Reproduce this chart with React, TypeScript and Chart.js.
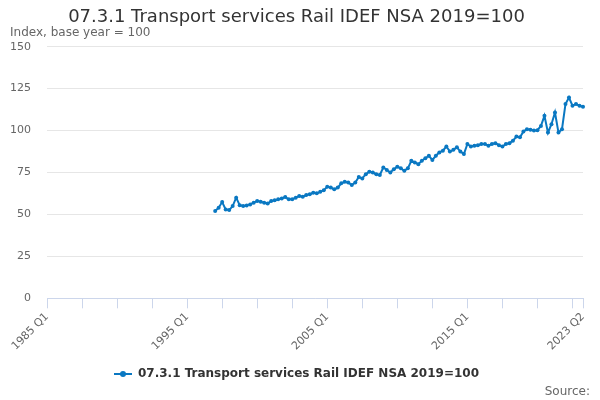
import React, { useEffect, useRef } from "react";
import { Chart, registerables } from "chart.js";

Chart.register(...registerables);

// Categories: quarterly periods from 1985 Q1 to 2023 Q2
const FIRST_YEAR = 1985;
const LAST_YEAR = 2023;
const LAST_QUARTER = 2;
const categories: string[] = [];
for (let y = FIRST_YEAR; y <= LAST_YEAR; y++) {
  for (let q = 1; q <= 4; q++) {
    if (y === LAST_YEAR && q > LAST_QUARTER) break;
    categories.push(`${y} Q${q}`);
  }
}

// Series starts at 1997 Q1
const seriesStart = "1997 Q1";
const seriesValues: number[] = [
  52, 54, 57.4, 53, 52.6, 55, 60, 55.5, 55, 55.4, 56, 57, 58, 57.5, 57, 56.5,
  58, 58.5, 59, 59.5, 60.4, 59, 59, 60, 61, 60.5, 61.6, 62, 63, 62.6, 63.5, 64.5,
  66.5, 66, 65, 66, 68.6, 69.5, 69, 67.5, 69, 72.3, 71.5, 74, 75.5, 75, 74, 73.5,
  78, 76.5, 75, 77, 78.5, 77.5, 76, 77.5, 82, 81, 80, 82, 83.5, 85, 82.5, 85,
  87, 88, 90.5, 87.5, 88.5, 90, 87.5, 86, 92, 90.5, 91, 91.3, 92, 92, 91, 92,
  92.5, 91.3, 90.5, 92, 92.5, 94, 96.4, 96, 99.5, 100.8, 100.5, 100, 100.2, 102.8, 108.8, 98.8,
  103.8, 110.8, 98.8, 100.8, 115.8, 119.7, 114.8, 115.8, 114.8, 114.2, 114,
];

// Axis labels
const shownXLabels = ["1985 Q1", "1995 Q1", "2005 Q1", "2015 Q1", "2023 Q2"];
const xTickMarkStep = 10;
const yTicks = [0, 25, 50, 75, 100, 125, 150];

const seriesName = "07.3.1 Transport services Rail IDEF NSA 2019=100";
const titleText = "07.3.1 Transport services Rail IDEF NSA 2019=100";
const subtitleText = "Index, base year = 100";
const sourceText = "Source:";

const LINE_COLOR = "#0a78c2";
const FONT = "'DejaVu Sans', sans-serif";

function makeLegendSymbol(): HTMLCanvasElement {
  const c = document.createElement("canvas");
  c.width = 18;
  c.height = 8;
  const ctx = c.getContext("2d")!;
  ctx.strokeStyle = LINE_COLOR;
  ctx.lineWidth = 2;
  ctx.beginPath();
  ctx.moveTo(0, 4);
  ctx.lineTo(18, 4);
  ctx.stroke();
  ctx.fillStyle = LINE_COLOR;
  ctx.beginPath();
  ctx.arc(9, 4, 3, 0, Math.PI * 2);
  ctx.fill();
  return c;
}

export default function App() {
  const canvasRef = useRef<HTMLCanvasElement | null>(null);

  useEffect(() => {
    if (!canvasRef.current) return;
    const startIdx = categories.indexOf(seriesStart);
    const data = categories.map((_, i) =>
      i < startIdx ? null : seriesValues[i - startIdx] ?? null
    );
    const lastIdx = categories.length - 1;
    const tickIdx: number[] = [];
    for (let i = 0; i <= lastIdx; i += xTickMarkStep) tickIdx.push(i);
    if (tickIdx[tickIdx.length - 1] !== lastIdx) tickIdx.push(lastIdx);
    const legendSymbol = makeLegendSymbol();

    const chart = new Chart(canvasRef.current, {
      type: "line",
      data: {
        labels: categories,
        datasets: [
          {
            label: seriesName,
            data,
            borderColor: LINE_COLOR,
            backgroundColor: LINE_COLOR,
            borderWidth: 2,
            pointRadius: 2,
            pointBorderWidth: 0,
            pointStyle: "circle",
            tension: 0,
            spanGaps: false,
          },
        ],
      },
      options: {
        animation: false,
        responsive: true,
        maintainAspectRatio: false,
        layout: { padding: { left: 10, right: 17, top: 0, bottom: 10 } },
        plugins: {
          title: {
            display: true,
            text: titleText,
            color: "#333333",
            font: { family: FONT, size: 18, weight: "normal", lineHeight: 0.85 },
            padding: { top: 10, bottom: 0 },
          },
          subtitle: {
            display: true,
            text: subtitleText,
            align: "start",
            color: "#666666",
            font: { family: FONT, size: 12, weight: "normal", lineHeight: 1.2 },
            padding: { top: 0, bottom: 7 },
          },
          legend: {
            display: true,
            position: "bottom",
            labels: {
              usePointStyle: true,
              pointStyleWidth: 18,
              color: "#333333",
              font: { family: FONT, size: 12, weight: "bold" },
              padding: 13,
              generateLabels: (ch: any) =>
                ch.data.datasets.map((ds: any, i: number) => ({
                  text: ds.label,
                  fillStyle: LINE_COLOR,
                  strokeStyle: LINE_COLOR,
                  lineWidth: 0,
                  pointStyle: legendSymbol,
                  hidden: false,
                  datasetIndex: i,
                  fontColor: "#333333",
                })),
            },
          },
          tooltip: { enabled: false },
        },
        scales: {
          x: {
            type: "category",
            offset: false,
            afterBuildTicks: (scale: any) => {
              scale.ticks = tickIdx.map((v) => ({ value: v }));
            },
            grid: {
              display: true,
              drawOnChartArea: false,
              drawTicks: true,
              tickLength: 10,
              tickColor: "#ccd6eb",
              color: "#ccd6eb",
            },
            border: { display: true, color: "#ccd6eb", width: 1 },
            ticks: {
              autoSkip: false,
              minRotation: 45,
              maxRotation: 45,
              padding: 2,
              color: "#666666",
              font: { family: FONT, size: 11 },
              callback: (value: any) => {
                const lab = categories[Number(value)];
                return shownXLabels.includes(lab) ? lab : "";
              },
            },
          },
          y: {
            min: 0,
            max: 150,
            afterBuildTicks: (scale: any) => {
              scale.ticks = yTicks.map((v) => ({ value: v }));
            },
            afterFit: (scale: any) => {
              scale.width = 37;
            },
            grid: {
              color: "#e6e6e6",
              drawTicks: false,
            },
            border: { display: false },
            ticks: {
              padding: 16,
              color: "#666666",
              font: { family: FONT, size: 11 },
            },
          },
        },
      },
    });
    return () => chart.destroy();
  }, []);

  return (
    <div
      style={{
        position: "absolute",
        left: 0,
        top: 0,
        width: 600,
        height: 400,
        background: "#ffffff",
        overflow: "hidden",
      }}
    >
      <canvas ref={canvasRef} />
      <div
        style={{
          position: "absolute",
          right: 10,
          top: 384,
          fontFamily: FONT,
          fontSize: 12,
          color: "#666666",
          lineHeight: "14px",
        }}
      >
        {sourceText}
      </div>
    </div>
  );
}
